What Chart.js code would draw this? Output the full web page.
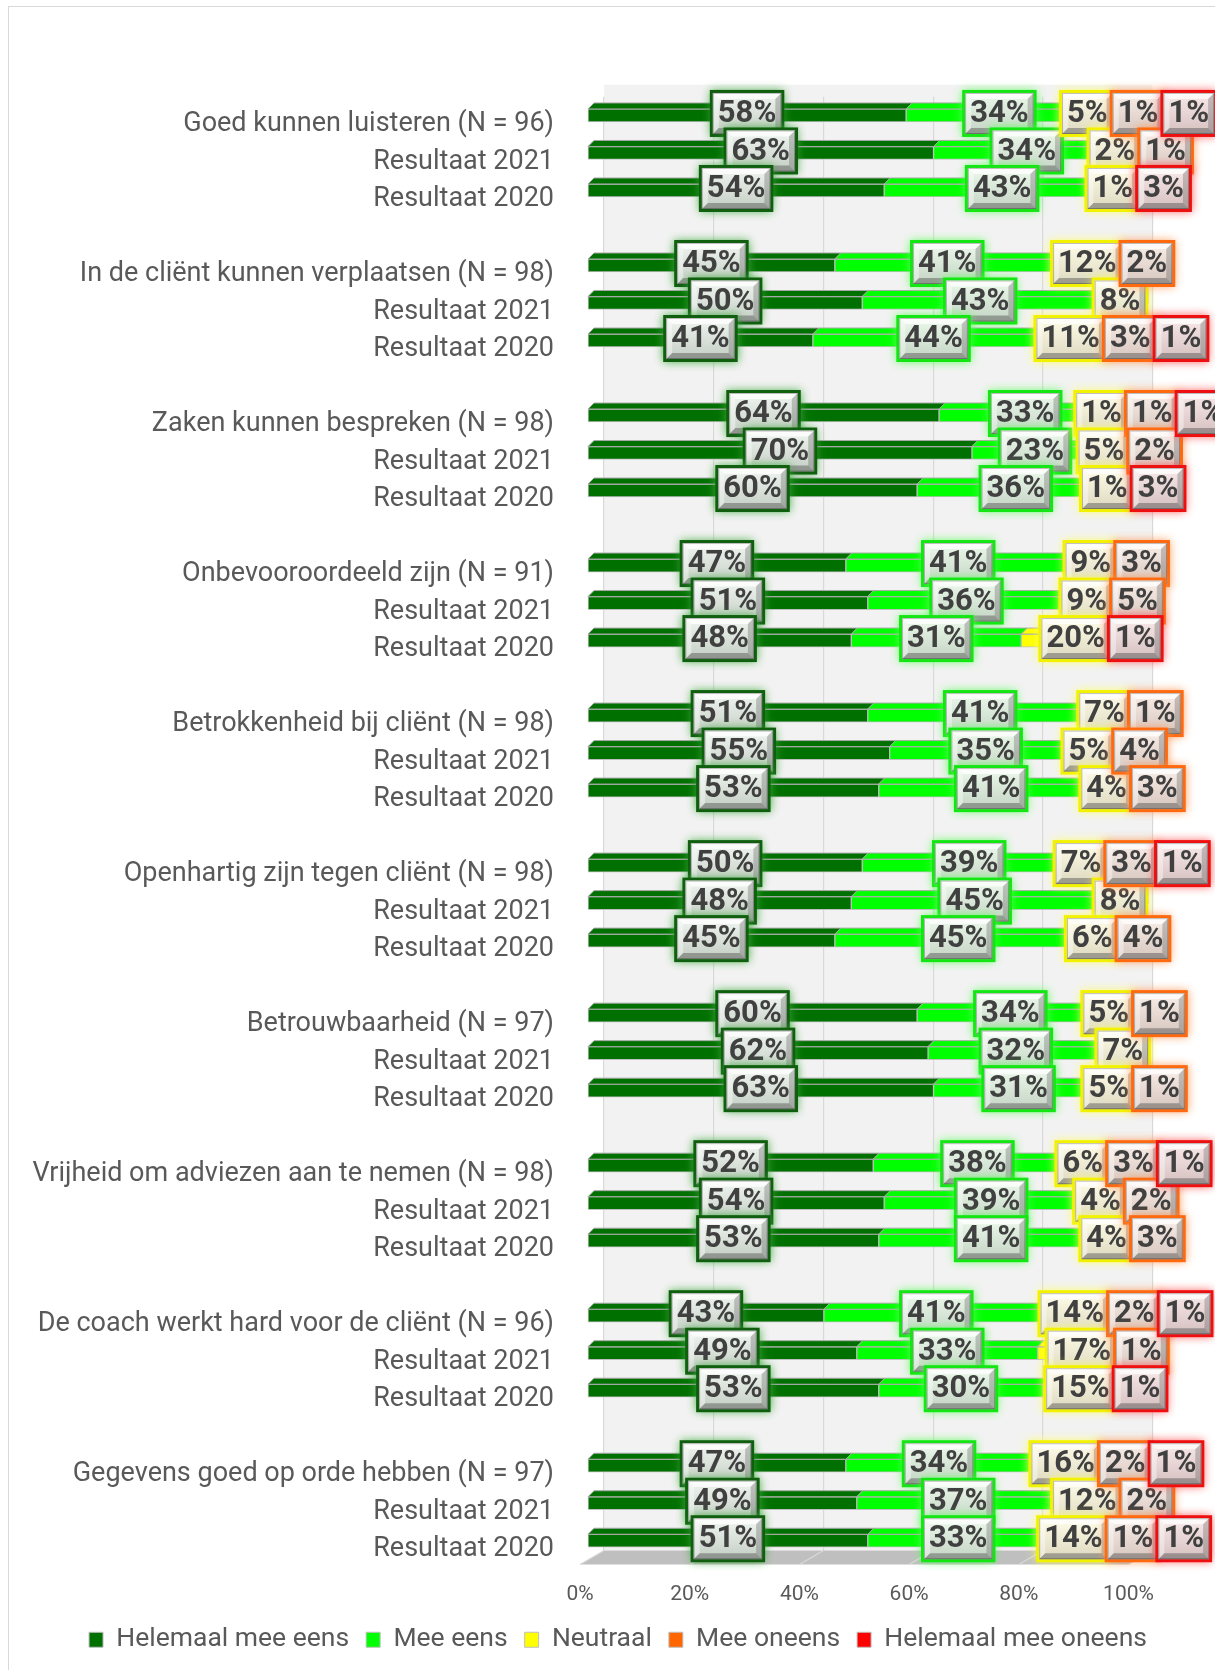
<!DOCTYPE html>
<html lang="nl">
<head>
<meta charset="UTF-8">
<title>Resultaten coach - vergelijking 2020 / 2021</title>
<script src="https://cdn.jsdelivr.net/npm/chart.js"></script>
<style>
    html, body { margin: 0; padding: 0; background: #fff; }
    #grafiek { display: block; }
</style>
</head>
<body>
<canvas id="grafiek" width="1215" height="1670"></canvas>
<script>
    // --- gegevens ---
    const vragen = [
        'Goed kunnen luisteren (N = 96)',
        'In de cliënt kunnen verplaatsen (N = 98)',
        'Zaken kunnen bespreken (N = 98)',
        'Onbevooroordeeld zijn (N = 91)',
        'Betrokkenheid bij cliënt (N = 98)',
        'Openhartig zijn tegen cliënt (N = 98)',
        'Betrouwbaarheid (N = 97)',
        'Vrijheid om adviezen aan te nemen (N = 98)',
        'De coach werkt hard voor de cliënt (N = 96)',
        'Gegevens goed op orde hebben (N = 97)'
    ];
    const jaren = ['Resultaat 2021', 'Resultaat 2020'];
    const reeksen = ['Helemaal mee eens', 'Mee eens', 'Neutraal', 'Mee oneens', 'Helemaal mee oneens'];

    // per vraag: huidige meting, 2021, 2020 (procenten)
    const heelEens   = [58,63,54, 45,50,41, 64,70,60, 47,51,48, 51,55,53, 50,48,45, 60,62,63, 52,54,53, 43,49,53, 47,49,51];
    const eens       = [34,34,43, 41,43,44, 33,23,36, 41,36,31, 41,35,41, 39,45,45, 34,32,31, 38,39,41, 41,33,30, 34,37,33];
    const neutraal   = [ 5, 2, 1, 12, 8,11,  1, 5, 1,  9, 9,20,  7, 5, 4,  7, 8, 6,  5, 7, 5,  6, 4, 4, 14,17,15, 16,12,14];
    const oneens     = [ 1, 1, 0,  2, 0, 3,  1, 2, 0,  3, 5, 0,  1, 4, 3,  3, 0, 4,  1, 0, 1,  3, 2, 3,  2, 1, 0,  2, 2, 1];
    const heelOneens = [ 1, 0, 3,  0, 0, 1,  1, 0, 3,  0, 0, 1,  0, 0, 0,  1, 0, 0,  0, 0, 0,  1, 0, 0,  1, 0, 1,  1, 0, 1];
    const asTicks = [0, 20, 40, 60, 80, 100];

    // --- stijl ---
    const kleuren = ['#007000', '#00ff00', '#ffff00', '#ff6600', '#ff0000'];
    const randKleuren = ['#0f5f0f', '#14e614', '#f2f200', '#ff6a10', '#ee1010'];
    const gloedKleuren = ['rgba(60,170,60,0.9)', 'rgba(90,255,90,0.9)', 'rgba(255,255,90,0.9)', 'rgba(255,150,80,0.9)', 'rgba(255,80,80,0.9)'];
    const vulKleuren = [
        ['#f0f5f0', '#c4cec4'],
        ['#ecf9ec', '#c4d4c4'],
        ['#fffce8', '#ddd9c0'],
        ['#f9eee8', '#d6c6be'],
        ['#f9e9e9', '#d6c0c0']
    ];

    // categorie-as: 3 rijen per vraag, lege rij tussen de vragen
    const labels = [];
    const rijIndex = [];
    vragen.forEach((vraag, g) => {
        if (g > 0) { labels.push(''); rijIndex.push(-1); }
        [vraag, ...jaren].forEach((t, r) => { labels.push(t); rijIndex.push(g * 3 + r); });
    });
    const naarRijen = arr => rijIndex.map(i => (i < 0 || !arr[i]) ? null : arr[i]);
    const reeksWaarden = [heelEens, eens, neutraal, oneens, heelOneens];

    const DIEPTE = 6;

    function vlak(ctx, punten, kleur, lijn) {
        ctx.beginPath();
        punten.forEach(([x, y], k) => k ? ctx.lineTo(x, y) : ctx.moveTo(x, y));
        ctx.closePath();
        ctx.fillStyle = kleur;
        ctx.fill();
        if (lijn) { ctx.strokeStyle = lijn; ctx.lineWidth = 1; ctx.stroke(); }
    }

    // labels verdelen zodat ze elkaar niet te veel overlappen
    function spreid(items, overlap) {
        const afstand = (a, b) => (a.w + b.w) / 2 - overlap;
        const duw = [];
        items.forEach((it, k) => {
            duw.push(k === 0 ? it.d : Math.max(it.d, duw[k - 1] + afstand(items[k - 1], it)));
        });
        const pos = items.map(it => it.d);
        let clusters = items.map((it, k) => ({ first: k, last: k }));
        const plaats = c => {
            const offs = [0];
            for (let k = c.first + 1; k <= c.last; k++) offs.push(offs[offs.length - 1] + afstand(items[k - 1], items[k]));
            let som = 0;
            for (let k = c.first; k <= c.last; k++) som += items[k].d - offs[k - c.first];
            const start = som / offs.length;
            for (let k = c.first; k <= c.last; k++) pos[k] = start + offs[k - c.first];
        };
        let veranderd = true;
        while (veranderd) {
            veranderd = false;
            for (let j = 0; j < clusters.length - 1; j++) {
                const a = clusters[j], b = clusters[j + 1];
                if (pos[b.first] - pos[a.last] < afstand(items[a.last], items[b.first]) - 0.01) {
                    const m = { first: a.first, last: b.last };
                    clusters.splice(j, 2, m);
                    plaats(m);
                    veranderd = true;
                    break;
                }
            }
        }
        return items.map((it, k) => (duw[k] + pos[k]) / 2);
    }

    function tekenLabel(ctx, cx, cy, w, h, tekst, i) {
        const x = cx - w / 2, y = cy - h / 2;
        ctx.save();
        ctx.shadowColor = gloedKleuren[i];
        ctx.shadowBlur = 9;
        ctx.fillStyle = randKleuren[i];
        ctx.fillRect(x, y, w, h);
        ctx.restore();

        const b = 3;
        const ix = x + b, iy = y + b, iw = w - 2 * b, ih = h - 2 * b;
        const grad = ctx.createLinearGradient(0, iy, 0, iy + ih);
        grad.addColorStop(0, vulKleuren[i][0]);
        grad.addColorStop(1, vulKleuren[i][1]);
        ctx.fillStyle = grad;
        ctx.fillRect(ix, iy, iw, ih);

        const bv = 6;
        vlak(ctx, [[ix, iy], [ix + iw, iy], [ix + iw - bv, iy + bv], [ix + bv, iy + bv]], 'rgba(255,255,255,0.75)');
        vlak(ctx, [[ix, iy], [ix + bv, iy + bv], [ix + bv, iy + ih - bv], [ix, iy + ih]], 'rgba(255,255,255,0.4)');
        vlak(ctx, [[ix, iy + ih], [ix + bv, iy + ih - bv], [ix + iw - bv, iy + ih - bv], [ix + iw, iy + ih]], 'rgba(80,80,80,0.45)');
        vlak(ctx, [[ix + iw, iy], [ix + iw, iy + ih], [ix + iw - bv, iy + ih - bv], [ix + iw - bv, iy + bv]], 'rgba(80,80,80,0.3)');
        ctx.strokeStyle = 'rgba(0,0,0,0.25)';
        ctx.lineWidth = 1;
        ctx.strokeRect(ix + 0.5, iy + 0.5, iw - 1, ih - 1);

        ctx.fillStyle = '#404040';
        ctx.font = 'bold 31px Roboto';
        ctx.textAlign = 'center';
        ctx.textBaseline = 'middle';
        ctx.fillText(tekst, cx, cy + 1);
    }

    const achtergrond = {
        id: 'achtergrond',
        beforeDraw(chart) {
            const { ctx, chartArea } = chart;
            const wand = chart.scales.xw;
            ctx.save();
            ctx.strokeStyle = '#d9d9d9';
            ctx.lineWidth = 1;
            ctx.strokeRect(8.5, 6.5, 1400, 1800);
            ctx.fillStyle = '#f2f2f2';
            const l = wand.getPixelForValue(0), r = wand.getPixelForValue(100);
            ctx.fillRect(l, chartArea.top - 12, r - l, chartArea.bottom - chartArea.top + 3);
            ctx.restore();
        },
        beforeDatasetsDraw(chart) {
            const { ctx, chartArea } = chart;
            const wand = chart.scales.xw, voor = chart.scales.xt;
            const achter = chartArea.bottom - 9, voorkant = chartArea.bottom + 5;
            ctx.save();
            vlak(ctx, [
                [voor.getPixelForValue(0), voorkant], [wand.getPixelForValue(0), achter],
                [wand.getPixelForValue(100), achter], [voor.getPixelForValue(100), voorkant]
            ], '#bfbfbf');
            ctx.strokeStyle = '#d9d9d9';
            ctx.lineWidth = 1.2;
            asTicks.forEach(v => {
                ctx.beginPath();
                ctx.moveTo(voor.getPixelForValue(v), voorkant);
                ctx.lineTo(wand.getPixelForValue(v), achter);
                ctx.stroke();
            });
            ctx.restore();
        },
        afterDatasetsDraw(chart) {
            const { ctx } = chart;
            const metas = chart.data.datasets.map((d, i) => chart.getDatasetMeta(i));
            ctx.save();
            // bovenvlak en zijkant van de balken (3D)
            labels.forEach((l, r) => {
                let laatste = null, li = -1;
                metas.forEach((meta, i) => {
                    const v = chart.data.datasets[i].data[r];
                    if (v == null) return;
                    const el = meta.data[r].getProps(['x', 'base', 'y', 'height'], true);
                    const top = el.y - el.height / 2;
                    vlak(ctx, [[el.base, top], [el.base + DIEPTE, top - DIEPTE], [el.x + DIEPTE, top - DIEPTE], [el.x, top]], kleuren[i], '#a8a8a8');
                    laatste = el; li = i;
                });
                if (laatste) {
                    const top = laatste.y - laatste.height / 2, bot = laatste.y + laatste.height / 2;
                    vlak(ctx, [[laatste.x, top], [laatste.x + DIEPTE, top - DIEPTE], [laatste.x + DIEPTE, bot - DIEPTE], [laatste.x, bot]], kleuren[li], '#a8a8a8');
                }
            });

            // waardelabels
            ctx.font = 'bold 31px Roboto';
            const lijst = [];
            labels.forEach((l, r) => {
                const items = [];
                metas.forEach((meta, i) => {
                    const v = chart.data.datasets[i].data[r];
                    if (v == null) return;
                    const el = meta.data[r].getProps(['x', 'base', 'y'], true);
                    const tekst = v + '%';
                    items.push({ i, r, tekst, d: (el.x + el.base) / 2, y: el.y - 2, w: ctx.measureText(tekst).width + 16 });
                });
                const xs = spreid(items, 6);
                items.forEach((it, k) => { it.cx = xs[k]; lijst.push(it); });
            });
            lijst.sort((a, b) => a.i - b.i || a.r - b.r);
            lijst.forEach(it => tekenLabel(ctx, it.cx, it.y, it.w, 47, it.tekst, it.i));
            ctx.restore();
        }
    };

    Chart.defaults.font.family = 'Roboto';

    const grafiek = new Chart(document.getElementById('grafiek'), {
        type: 'bar',
        data: {
            labels: labels,
            datasets: reeksen.map((naam, i) => ({
                label: naam,
                data: naarRijen(reeksWaarden[i]),
                backgroundColor: kleuren[i],
                borderColor: '#bfbfbf',
                borderWidth: 1,
                borderSkipped: false,
                barThickness: 13,
                xAxisID: 'x',
                yAxisID: 'y'
            }))
        },
        options: {
            indexAxis: 'y',
            responsive: false,
            animation: false,
            devicePixelRatio: 1,
            layout: { padding: { top: 96.7, right: 5, bottom: 7, left: 26 } },
            scales: {
                y: {
                    stacked: true,
                    grid: { display: false, drawTicks: false },
                    border: { display: false },
                    ticks: { autoSkip: false, padding: 26, labelOffset: 9, color: '#595959', font: { size: 27 } },
                    afterFit: s => { s.width = 554; }
                },
                x: {
                    stacked: true,
                    display: false,
                    min: -1.46,
                    max: 113.4
                },
                xw: {
                    type: 'linear',
                    position: 'bottom',
                    min: -4.38,
                    max: 110.48,
                    grid: { color: '#d9d9d9', lineWidth: 1.2, drawTicks: false },
                    border: { display: false },
                    ticks: { display: false },
                    afterBuildTicks: s => { s.ticks = asTicks.map(v => ({ value: v })); },
                    afterFit: s => { s.height = 0; }
                },
                xt: {
                    type: 'linear',
                    position: 'bottom',
                    min: 0,
                    max: 114.86,
                    grid: { display: false, drawTicks: false },
                    border: { display: false },
                    ticks: { color: '#595959', font: { size: 21 }, padding: 23, maxRotation: 0, callback: v => v + '%' },
                    afterBuildTicks: s => { s.ticks = asTicks.map(v => ({ value: v })); },
                    afterFit: s => { s.height = 50; }
                }
            },
            plugins: {
                tooltip: { enabled: false },
                legend: {
                    position: 'bottom',
                    labels: { color: '#595959', font: { size: 26.5 }, boxWidth: 14, boxHeight: 15, padding: 17 }
                }
            }
        },
        plugins: [achtergrond]
    });
</script>
</body>
</html>
